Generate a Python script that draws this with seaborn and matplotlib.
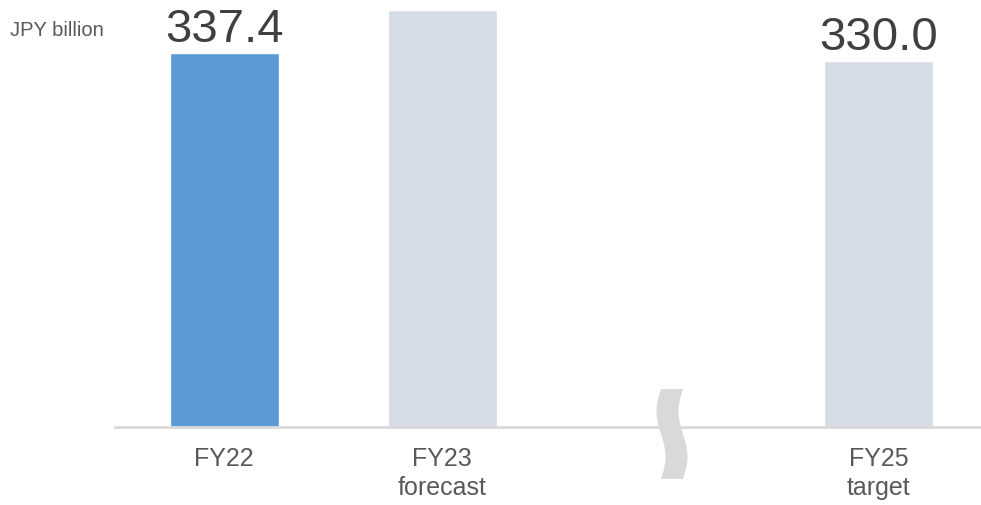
import numpy as np
import pandas as pd
import matplotlib
matplotlib.use("Agg")
import matplotlib.pyplot as plt
import seaborn as sns
from matplotlib.patches import Polygon

categories = ["FY22", "FY23\nforecast", "", "FY25\ntarget"]
values = [337.4, 376.0, np.nan, 330.0]
value_labels = ["337.4", "", "", "330.0"]
colors = ["#5b9bd5", "#d6dce5", "#ffffff", "#d6dce5"]
unit_label = "JPY billion"

sns.set_theme(style="white")
plt.rcParams["font.family"] = ["Liberation Sans", "DejaVu Sans"]

df = pd.DataFrame({"cat": categories, "val": values})

fig = plt.figure(figsize=(9.81, 5.06), dpi=100)
ax = fig.add_axes([115 / 981, 78 / 506, 866 / 981, 428 / 506])

sns.barplot(data=df, x="cat", y="val", hue="cat", order=categories,
            hue_order=categories, palette=colors, width=0.5, legend=False,
            ax=ax, saturation=1)

ax.set_xlim(-0.5, 3.47)
ax.set_ylim(0, 386)
for s in ["left", "right", "top"]:
    ax.spines[s].set_visible(False)
ax.spines["bottom"].set_color("#d9d9d9")
ax.spines["bottom"].set_linewidth(2)
ax.set_yticks([])
ax.set_xlabel("")
ax.set_ylabel("")
ax.tick_params(axis="x", length=0, pad=14, labelsize=18, colors="#595959")
for lbl in ax.get_xticklabels():
    lbl.set_linespacing(1.25)

for i, (v, t) in enumerate(zip(values, value_labels)):
    if t and not np.isnan(v):
        ax.annotate(t, xy=(i, v), xytext=(0, 8.5), textcoords="offset points",
                    ha="center", va="baseline", fontsize=34, color="#404040")

fig.text(10 / 981, 1 - 31 / 506, unit_label, fontsize=14.5, color="#595959",
         ha="left", va="center")

# wavy break symbol (decoration) in pixel coordinates
ys = np.linspace(390, 480, 60)
cx = 672 + 4.5 * np.sin((ys - 390) / 90 * 2 * np.pi + np.pi)
left = np.column_stack([cx - 11, 506 - ys])
right = np.column_stack([cx + 11, 506 - ys])[::-1]
pts = np.vstack([left, right])
pts[:, 0] /= 981
pts[:, 1] /= 506
fig.patches.append(Polygon(pts, closed=True, transform=fig.transFigure,
                           facecolor="#d9d9d9", edgecolor="none", zorder=5))

fig.savefig("out.png", dpi=100)
